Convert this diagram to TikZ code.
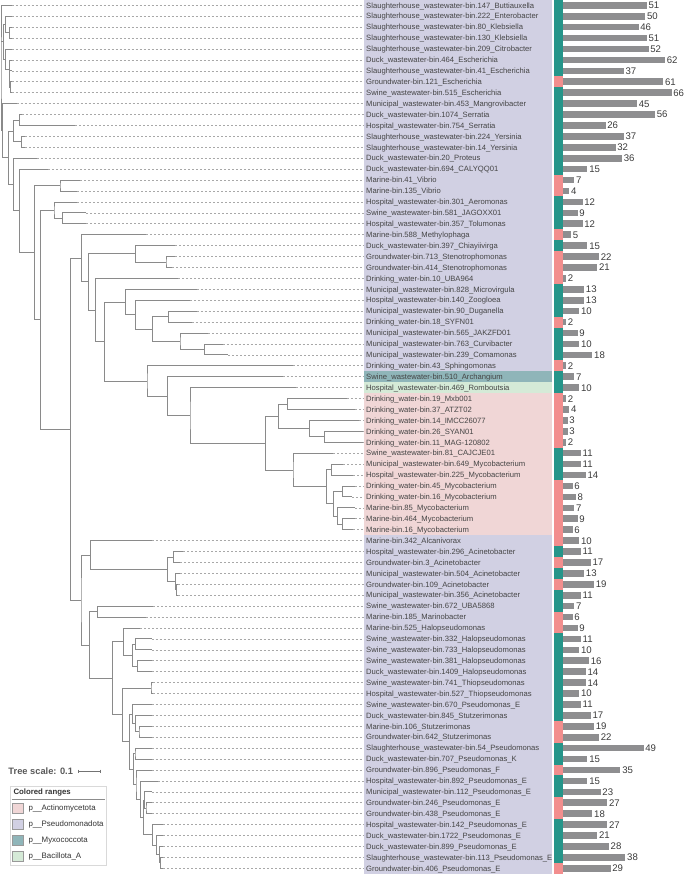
\documentclass[tikz,border=0pt]{standalone}
\usepackage{fontspec}
\setmainfont{Liberation Sans}
\usetikzlibrary{calc}
\definecolor{lav}{HTML}{D1D0E3}
\definecolor{myx}{HTML}{8FB5B9}
\definecolor{bac}{HTML}{D5EAD7}
\definecolor{act}{HTML}{F0D6D6}
\definecolor{stT}{HTML}{26958A}
\definecolor{stP}{HTML}{F28E8E}
\definecolor{barc}{HTML}{8E8E90}
\definecolor{treec}{HTML}{8A8A8A}
\definecolor{leadc}{HTML}{A8A8A8}
\definecolor{labc}{HTML}{454545}
\definecolor{numc}{HTML}{3A3A3A}
\tikzset{
  br/.style={draw=treec, line width=0.8pt},
  lead/.style={draw=leadc, line width=0.6pt, dash pattern=on 2pt off 2pt},
  lab/.style={anchor=base west, inner sep=0pt, font=\fontsize{7.65}{9}\selectfont, text=labc},
  num/.style={anchor=base west, inner sep=0pt, font=\fontsize{9.6}{11}\selectfont, text=numc},
  scl/.style={anchor=west, inner sep=0pt, font=\bfseries\fontsize{9.3}{11}\selectfont, text=black!65},
  legt/.style={anchor=west, inner sep=0pt, font=\bfseries\fontsize{7.8}{9}\selectfont, text=black!80},
  legi/.style={anchor=west, inner sep=0pt, font=\fontsize{7.9}{9}\selectfont, text=black!80},
  sw/.style={draw=black!40, line width=0.5pt},
}
\newcommand\lf[5]{%
  \coordinate (L#1) at (#2,{5.3+(#1-1)*10.924});
  \coordinate (M#1) at (363.5,{5.3+(#1-1)*10.924});
  \draw[lead] (L#1) -- (M#1);
  \node[lab] (T#1) at (366,{5.3+(#1-1)*10.924+2.75}) {\detokenize{#3}};
  \fill[#5] (554,{5.3+(#1-1)*10.924-5.47}) rectangle (562.7,{5.3+(#1-1)*10.924+5.47});
  \fill[barc] (562.7,{5.3+(#1-1)*10.924-3.3}) rectangle ({562.7+1.65*#4},{5.3+(#1-1)*10.924+3.3});
  \node[num] (V#1) at ({562.7+1.65*#4+1.6},{5.3+(#1-1)*10.924+3.45}) {#4};
}
\newcommand\nd[4]{%
  \path let \p1=(#3), \p2=(#4) in coordinate (#1) at (#2,{(\y1+\y2)/2});
  \draw[br] (#3) -| (#1) |- (#4);
}
\begin{document}
\begin{tikzpicture}[x=1pt,y=-1pt]
\useasboundingbox (0,0) rectangle (685,874);
% colored ranges
\fill[lav] (364,0) rectangle (552.3,371.3);
\fill[myx] (364,371.3) rectangle (552.3,382.2);
\fill[bac] (364,382.2) rectangle (552.3,393.1);
\fill[act] (364,393.1) rectangle (552.3,535.0);
\fill[lav] (364,535.0) rectangle (552.3,874);
% leaves
\lf{1}{11.5}{Slaughterhouse_wastewater-bin.147_Buttiauxella}{51}{stT}
\lf{2}{11.7}{Slaughterhouse_wastewater-bin.222_Enterobacter}{50}{stT}
\lf{3}{11.7}{Slaughterhouse_wastewater-bin.80_Klebsiella}{46}{stT}
\lf{4}{11.7}{Slaughterhouse_wastewater-bin.130_Klebsiella}{51}{stT}
\lf{5}{11.7}{Slaughterhouse_wastewater-bin.209_Citrobacter}{52}{stT}
\lf{6}{11.7}{Duck_wastewater-bin.464_Escherichia}{62}{stT}
\lf{7}{11.7}{Slaughterhouse_wastewater-bin.41_Escherichia}{37}{stT}
\lf{8}{11.7}{Groundwater-bin.121_Escherichia}{61}{stP}
\lf{9}{11.7}{Swine_wastewater-bin.515_Escherichia}{66}{stT}
\lf{10}{16.7}{Municipal_wastewater-bin.453_Mangrovibacter}{45}{stT}
\lf{11}{22}{Duck_wastewater-bin.1074_Serratia}{56}{stT}
\lf{12}{75}{Hospital_wastewater-bin.754_Serratia}{26}{stT}
\lf{13}{25}{Slaughterhouse_wastewater-bin.224_Yersinia}{37}{stT}
\lf{14}{25}{Slaughterhouse_wastewater-bin.14_Yersinia}{32}{stT}
\lf{15}{36.7}{Duck_wastewater-bin.20_Proteus}{36}{stT}
\lf{16}{48.3}{Duck_wastewater-bin.694_CALYQQ01}{15}{stT}
\lf{17}{80}{Marine-bin.41_Vibrio}{7}{stP}
\lf{18}{77}{Marine-bin.135_Vibrio}{4}{stP}
\lf{19}{77}{Hospital_wastewater-bin.301_Aeromonas}{12}{stT}
\lf{20}{86}{Swine_wastewater-bin.581_JAGOXX01}{9}{stT}
\lf{21}{86}{Hospital_wastewater-bin.357_Tolumonas}{12}{stT}
\lf{22}{146}{Marine-bin.588_Methylophaga}{5}{stP}
\lf{23}{175}{Duck_wastewater-bin.397_Chiayiivirga}{15}{stT}
\lf{24}{175}{Groundwater-bin.713_Stenotrophomonas}{22}{stP}
\lf{25}{172}{Groundwater-bin.414_Stenotrophomonas}{21}{stP}
\lf{26}{178.3}{Drinking_water-bin.10_UBA964}{2}{stP}
\lf{27}{196.7}{Municipal_wastewater-bin.828_Microvirgula}{13}{stT}
\lf{28}{190}{Hospital_wastewater-bin.140_Zoogloea}{13}{stT}
\lf{29}{196.7}{Municipal_wastewater-bin.90_Duganella}{10}{stT}
\lf{30}{191.7}{Drinking_water-bin.18_SYFN01}{2}{stP}
\lf{31}{208.3}{Municipal_wastewater-bin.565_JAKZFD01}{9}{stT}
\lf{32}{222.7}{Municipal_wastewater-bin.763_Curvibacter}{10}{stT}
\lf{33}{228.3}{Municipal_wastewater-bin.239_Comamonas}{18}{stT}
\lf{34}{293.3}{Drinking_water-bin.43_Sphingomonas}{2}{stP}
\lf{35}{282.7}{Swine_wastewater-bin.510_Archangium}{7}{stT}
\lf{36}{296}{Hospital_wastewater-bin.469_Romboutsia}{10}{stT}
\lf{37}{346.7}{Drinking_water-bin.19_Mxb001}{2}{stP}
\lf{38}{355}{Drinking_water-bin.37_ATZT02}{4}{stP}
\lf{39}{359.3}{Drinking_water-bin.14_IMCC26077}{3}{stP}
\lf{40}{363.3}{Drinking_water-bin.26_SYAN01}{3}{stP}
\lf{41}{363.3}{Drinking_water-bin.11_MAG-120802}{2}{stP}
\lf{42}{333}{Swine_wastewater-bin.81_CAJCJE01}{11}{stT}
\lf{43}{343}{Municipal_wastewater-bin.649_Mycobacterium}{11}{stT}
\lf{44}{353}{Hospital_wastewater-bin.225_Mycobacterium}{14}{stT}
\lf{45}{355}{Drinking_water-bin.45_Mycobacterium}{6}{stP}
\lf{46}{352}{Drinking_water-bin.16_Mycobacterium}{8}{stP}
\lf{47}{355}{Marine-bin.85_Mycobacterium}{7}{stP}
\lf{48}{355}{Marine-bin.464_Mycobacterium}{9}{stP}
\lf{49}{353}{Marine-bin.16_Mycobacterium}{6}{stP}
\lf{50}{151.7}{Marine-bin.342_Alcanivorax}{10}{stP}
\lf{51}{183.3}{Hospital_wastewater-bin.296_Acinetobacter}{11}{stT}
\lf{52}{180}{Groundwater-bin.3_Acinetobacter}{17}{stP}
\lf{53}{180}{Municipal_wastewater-bin.504_Acinetobacter}{13}{stT}
\lf{54}{178}{Groundwater-bin.109_Acinetobacter}{19}{stP}
\lf{55}{178}{Municipal_wastewater-bin.356_Acinetobacter}{11}{stT}
\lf{56}{153.3}{Swine_wastewater-bin.672_UBA5868}{7}{stT}
\lf{57}{145.7}{Marine-bin.185_Marinobacter}{6}{stP}
\lf{58}{140}{Marine-bin.525_Halopseudomonas}{9}{stP}
\lf{59}{151.7}{Swine_wastewater-bin.332_Halopseudomonas}{11}{stT}
\lf{60}{151.7}{Swine_wastewater-bin.733_Halopseudomonas}{10}{stT}
\lf{61}{151.7}{Swine_wastewater-bin.381_Halopseudomonas}{16}{stT}
\lf{62}{151.7}{Duck_wastewater-bin.1409_Halopseudomonas}{14}{stT}
\lf{63}{153}{Swine_wastewater-bin.741_Thiopseudomonas}{14}{stT}
\lf{64}{153}{Hospital_wastewater-bin.527_Thiopseudomonas}{10}{stT}
\lf{65}{151.7}{Swine_wastewater-bin.670_Pseudomonas_E}{11}{stT}
\lf{66}{151.7}{Duck_wastewater-bin.845_Stutzerimonas}{17}{stT}
\lf{67}{151.7}{Marine-bin.106_Stutzerimonas}{19}{stP}
\lf{68}{151.7}{Groundwater-bin.642_Stutzerimonas}{22}{stP}
\lf{69}{151.7}{Slaughterhouse_wastewater-bin.54_Pseudomonas}{49}{stT}
\lf{70}{151.7}{Duck_wastewater-bin.707_Pseudomonas_K}{15}{stT}
\lf{71}{151.7}{Groundwater-bin.896_Pseudomonas_F}{35}{stP}
\lf{72}{158.3}{Hospital_wastewater-bin.892_Pseudomonas_E}{15}{stT}
\lf{73}{151.7}{Municipal_wastewater-bin.112_Pseudomonas_E}{23}{stT}
\lf{74}{151.7}{Groundwater-bin.246_Pseudomonas_E}{27}{stP}
\lf{75}{151.7}{Groundwater-bin.438_Pseudomonas_E}{18}{stP}
\lf{76}{163.3}{Hospital_wastewater-bin.142_Pseudomonas_E}{27}{stT}
\lf{77}{163.3}{Duck_wastewater-bin.1722_Pseudomonas_E}{21}{stT}
\lf{78}{163.3}{Duck_wastewater-bin.899_Pseudomonas_E}{28}{stT}
\lf{79}{163.3}{Slaughterhouse_wastewater-bin.113_Pseudomonas_E}{38}{stT}
\lf{80}{163.3}{Groundwater-bin.406_Pseudomonas_E}{29}{stP}
% tree: top clade
\nd{nKleb}{9.3}{L3}{L4}
\nd{nE2}{5.7}{L2}{nKleb}
\nd{nE5}{10.3}{L8}{L9}
\nd{nE4}{9.8}{L7}{nE5}
\nd{nEsch}{9.3}{L6}{nE4}
\nd{nE3}{5.7}{L5}{nEsch}
\nd{nE1}{3.3}{nE2}{nE3}
\nd{nSerr}{19.3}{L11}{L12}
\nd{nYers}{21.3}{L13}{L14}
\nd{nV}{13.3}{nSerr}{nYers}
\nd{nVib}{60}{L17}{L18}
\nd{n2021}{62.7}{L20}{L21}
\nd{n19}{54}{L19}{n2021}
% R1 subtree
\nd{nSten}{166}{L24}{L25}
\nd{n23}{135.7}{L23}{nSten}
\nd{n2930}{168.3}{L29}{L30}
\nd{n3233}{204.3}{L32}{L33}
\nd{n31}{180}{L31}{n3233}
\nd{n152}{152.7}{n2930}{n31}
\nd{n28}{135.7}{L28}{n152}
\nd{n27}{125.3}{L27}{n28}
\nd{n3738}{287.3}{L37}{L38}
\nd{n4041}{324.3}{L40}{L41}
\nd{n39}{309.7}{L39}{n4041}
\nd{nA1}{278.3}{n3738}{n39}
\nd{n4344}{331.7}{L43}{L44}
\nd{n4546}{342.3}{L45}{L46}
\nd{n4849}{342.3}{L48}{L49}
\nd{n47}{337.3}{L47}{n4849}
\nd{n333}{333.3}{n4546}{n47}
\nd{n326}{326.7}{n4344}{n333}
\nd{nA2}{293}{L42}{n326}
\nd{nAct}{265.7}{nA1}{nA2}
\nd{n36}{190}{L36}{nAct}
\nd{n35}{167.7}{L35}{n36}
\nd{n34}{147}{L34}{n35}
\nd{n104}{104.3}{n27}{n34}
\nd{n26}{95.7}{L26}{n104}
\nd{n88}{88.3}{n23}{n26}
\nd{nR1}{81.3}{L22}{n88}
% P subtree
\nd{n5152}{173.7}{L51}{L52}
\nd{n5455}{176.7}{L54}{L55}
\nd{n53}{175.7}{L53}{n5455}
\nd{nAcin}{167.7}{n5152}{n53}
\nd{nP1}{90.7}{L50}{nAcin}
\nd{n5657}{97.7}{L56}{L57}
\nd{n5960}{135.7}{L59}{L60}
\nd{n6162}{137.7}{L61}{L62}
\nd{nHal}{132.7}{n5960}{n6162}
\nd{nH}{123.7}{L58}{nHal}
\nd{n6364}{151}{L63}{L64}
\nd{nC3}{139}{L67}{L68}
\nd{nC2}{135.7}{L66}{nC3}
\nd{nC}{132.3}{L65}{nC2}
\nd{n6970}{135}{L69}{L70}
\nd{n7475}{146}{L74}{L75}
\nd{nD5}{144.3}{L73}{n7475}
\nd{n7980}{160.7}{L79}{L80}
\nd{nD8}{159.3}{L78}{n7980}
\nd{nD7}{156.7}{L77}{nD8}
\nd{nD6}{152.3}{L76}{nD7}
\nd{nD4}{143.3}{nD5}{nD6}
\nd{nD3}{140.7}{L72}{nD4}
\nd{nD2}{136}{L71}{nD3}
\nd{nD}{133.3}{n6970}{nD2}
\nd{nB}{129.3}{nC}{nD}
\nd{nA67}{122.3}{n6364}{nB}
\nd{nP3}{112.3}{nH}{nA67}
\nd{nP2}{89.3}{n5657}{nP3}
\nd{nP}{81}{nP1}{nP2}
\nd{nR}{70.7}{nR1}{nP}
\nd{nQ}{40.7}{n19}{nR}
\nd{nS}{34.3}{nVib}{nQ}
\nd{nT}{19.3}{L16}{nS}
\nd{nU}{13.3}{L15}{nT}
\nd{nW}{8.3}{nV}{nU}
\nd{nX}{2.7}{L10}{nW}
% root (three children)
\path let \p1=(L1), \p2=(nX) in coordinate (root) at (1,{(\y1+\y2)/2});
\draw[br] (L1) -| (root) |- (nX);
\draw[br] (nE1) -- (nE1 -| root);
% tree scale
\node[scl] (tscale) at (8.3,771.3) {Tree scale: 0.1};
\coordinate (sb1) at (78.3,771.3);
\coordinate (sb2) at (100,771.3);
\draw[black!55, line width=0.6pt] (sb1) -- (sb2);
\draw[black!55, line width=0.6pt] ($(sb1)+(0,-1.6)$) -- ($(sb1)+(0,1.6)$);
\draw[black!55, line width=0.6pt] ($(sb2)+(0,-1.6)$) -- ($(sb2)+(0,1.6)$);
% legend
\draw[black!15, line width=0.6pt] (10.7,786) rectangle (106.7,865.7);
\node[legt] (legtitle) at (13.3,792.7) {Colored ranges};
\draw[black!45, line width=0.5pt] (11.7,799.3) -- (105,799.3);
\filldraw[sw, fill=act] (12.7,803.3) rectangle (23.3,813.3);
\node[legi] (lg1) at (28.3,808.3) {\detokenize{p__Actinomycetota}};
\filldraw[sw, fill=lav] (12.7,819.3) rectangle (23.3,829.3);
\node[legi] (lg2) at (28.3,824.3) {\detokenize{p__Pseudomonadota}};
\filldraw[sw, fill=myx] (12.7,835.3) rectangle (23.3,845.3);
\node[legi] (lg3) at (28.3,840.3) {\detokenize{p__Myxococcota}};
\filldraw[sw, fill=bac] (12.7,851.3) rectangle (23.3,861.3);
\node[legi] (lg4) at (28.3,856.3) {\detokenize{p__Bacillota_A}};
\end{tikzpicture}
\end{document}
